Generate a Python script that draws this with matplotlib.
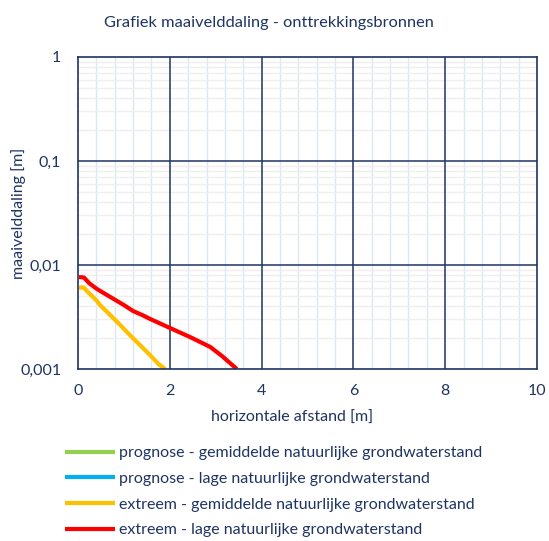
import matplotlib
matplotlib.use("Agg")
import matplotlib.pyplot as plt
from matplotlib.ticker import FixedLocator, FixedFormatter, LogLocator, NullFormatter

plt.rcParams['font.family'] = ['Lato', 'DejaVu Sans']

NAVY = '#1f3461'

title = "Grafiek maaivelddaling - onttrekkingsbronnen"
xlabel = "horizontale afstand [m]"
ylabel = "maaivelddaling [m]"

series_names = [
    "prognose - gemiddelde natuurlijke grondwaterstand",
    "prognose - lage natuurlijke grondwaterstand",
    "extreem - gemiddelde natuurlijke grondwaterstand",
    "extreem - lage natuurlijke grondwaterstand",
]
series_colors = ['#92d050', '#00b0f0', '#ffc000', '#ff0000']

# prognose series lie below the plotted range (not visible)
prog_gem_x = []
prog_gem_y = []
prog_laag_x = []
prog_laag_y = []

ext_gem_x = [0.02, 0.12, 0.20, 0.42, 0.48, 0.70, 0.92, 1.13, 1.35, 1.57, 1.75, 1.90]
ext_gem_y = [0.00605, 0.00610, 0.00558, 0.00448, 0.00412, 0.00331, 0.00265, 0.00212,
             0.00170, 0.00136, 0.00112, 0.001]

ext_laag_x = [0.02, 0.13, 0.24, 0.41, 0.63, 0.85, 1.00, 1.20, 1.42, 1.57, 2.03, 2.44, 2.88, 3.14, 3.46]
ext_laag_y = [0.00766, 0.00758, 0.00671, 0.00589, 0.00515, 0.00451, 0.00412, 0.00361, 0.00327,
              0.00303, 0.00245, 0.00203, 0.00163, 0.00133, 0.001]

y_ticks = [0.001, 0.01, 0.1, 1]
y_ticklabels = ["0,001", "0,01", "0,1", "1"]
x_ticks = [0, 2, 4, 6, 8, 10]
x_ticklabels = ["0", "2", "4", "6", "8", "10"]
x_minor = [v * 0.4 for v in range(26) if v % 5 != 0]

fig = plt.figure(figsize=(5.49, 5.41), dpi=100)
ax = fig.add_axes([78/549, 1-369/541, (537-78)/549, (369-57)/541])

xs = [prog_gem_x, prog_laag_x, ext_gem_x, ext_laag_x]
ys = [prog_gem_y, prog_laag_y, ext_gem_y, ext_laag_y]
handles = []
for x, y, c, n in zip(xs, ys, series_colors, series_names):
    h, = ax.plot(x, y, color=c, lw=3, solid_capstyle='butt', solid_joinstyle='round',
                 label=n, zorder=3)
    handles.append(h)

ax.set_yscale('log')
ax.set_ylim(0.001, 1)
ax.set_xlim(0, 10)

ax.yaxis.set_major_locator(FixedLocator(y_ticks))
ax.yaxis.set_major_formatter(FixedFormatter(y_ticklabels))
ax.yaxis.set_minor_locator(LogLocator(base=10, subs=range(2, 10)))
ax.yaxis.set_minor_formatter(NullFormatter())
ax.xaxis.set_major_locator(FixedLocator(x_ticks))
ax.xaxis.set_major_formatter(FixedFormatter(x_ticklabels))
ax.xaxis.set_minor_locator(FixedLocator(x_minor))

ax.grid(which='minor', axis='x', color='#dce6f4', lw=1.0)
ax.grid(which='minor', axis='y', color='#efefef', lw=1.0)
ax.set_axisbelow(True)
# major gridlines on top of the minor grid
for xv in x_ticks[1:-1]:
    ax.axvline(xv, color=NAVY, lw=1.1, zorder=1)
for yv in y_ticks[1:-1]:
    ax.axhline(yv, color=NAVY, lw=1.1, zorder=1)

for s in ax.spines.values():
    s.set_color(NAVY)
    s.set_linewidth(1.2)
    s.set_zorder(4)

FS = 11.5
ax.tick_params(which='both', length=0, colors=NAVY, labelsize=FS)
ax.tick_params(axis='y', pad=12)
ax.tick_params(axis='x', pad=11)

ax.set_xlabel(xlabel, color=NAVY, fontsize=FS)
ax.xaxis.set_label_coords(0.466, -0.135)
ax.set_ylabel(ylabel, color=NAVY, fontsize=FS)
ax.yaxis.set_label_coords((26-78)/459, 0.5)

fig.text(0.49, 1-23/541, title, color=NAVY, fontsize=11.8, ha='center', va='center')

leg = fig.legend(handles=handles, loc='upper left', bbox_to_anchor=(65/549, 1-446/541),
                 frameon=False, fontsize=FS, handlelength=3.1, handletextpad=0.3,
                 labelspacing=0.72, borderaxespad=0, borderpad=0)
for t in leg.get_texts():
    t.set_color(NAVY)

fig.savefig("out.png", dpi=100)
